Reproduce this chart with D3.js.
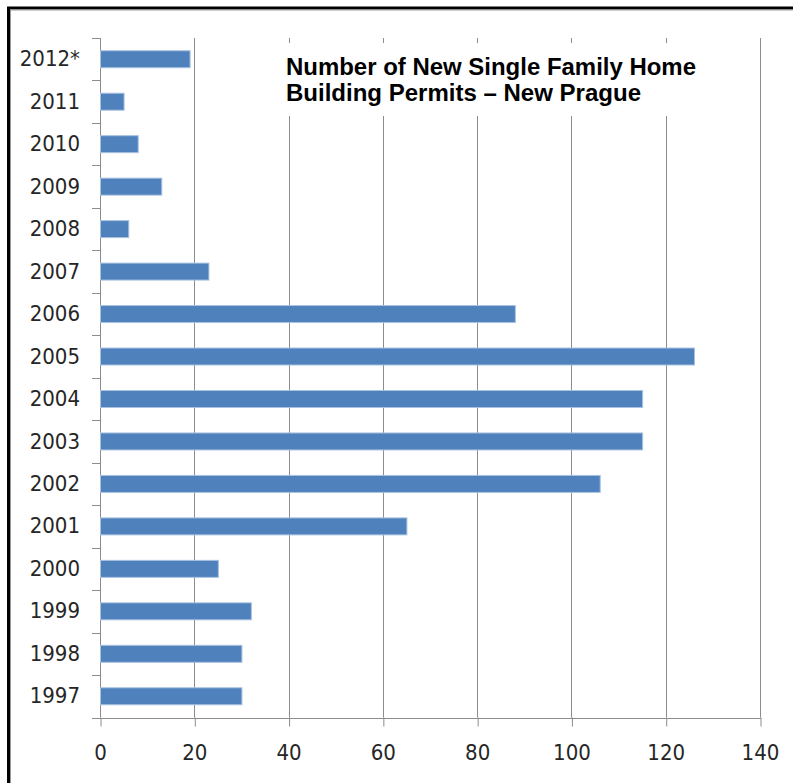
<!DOCTYPE html>
<html><head><meta charset="utf-8">
<script src="https://cdn.jsdelivr.net/npm/d3@7"></script>
<style>
html,body{margin:0;padding:0;background:#fff;overflow:hidden;}
svg{display:block;}
.lbl{font-family:"Liberation Sans Narrow","DejaVu Sans Condensed","DejaVu Sans",sans-serif;font-stretch:condensed;fill:#262626;}
.title{font-family:"Liberation Sans",Arial,sans-serif;font-weight:bold;fill:#000;}
</style></head>
<body>
<script>
const years = ["2012*","2011","2010","2009","2008","2007","2006","2005","2004","2003","2002","2001","2000","1999","1998","1997"];
const permits = [19,5,8,13,6,23,88,126,115,115,106,65,25,32,30,30];
const xTicks = [0,20,40,60,80,100,120,140];
const titleLines = ["Number of New Single Family Home","Building Permits \u2013 New Prague"];

(function(){
const W = 793, H = 783;
const svg = d3.select("body").append("svg").attr("width", W).attr("height", H);

// frame
svg.append("rect").attr("x",8.5).attr("y",8).attr("width",W+20).attr("height",H+20)
  .attr("fill","none").attr("stroke","#000").attr("stroke-width",3);
svg.append("rect").attr("x",10.5).attr("y",10).attr("width",W+20).attr("height",H+20)
  .attr("fill","none").attr("stroke","#9a9a9a").attr("stroke-width",1);

const pL = 100, pR = 760, pT = 38, pB = 717.5;
const x = d3.scaleLinear().domain([0,140]).range([pL,pR]);
const y = d3.scaleBand().domain(years).range([pT,pB]).paddingInner(0.6).paddingOuter(0.3);

const grid = "#8c8c8c";
// gridlines
svg.append("g").selectAll("line").data(xTicks.filter(d=>d>0)).join("line")
  .attr("x1",d=>Math.round(x(d))+0.5).attr("x2",d=>Math.round(x(d))+0.5)
  .attr("y1",pT).attr("y2",pB).attr("stroke",grid).attr("stroke-width",1);

// x axis
const xAxis = d3.axisBottom(x).tickValues(xTicks).tickSize(9).tickPadding(18).tickFormat(d3.format("d"));
const gx = svg.append("g").attr("transform",`translate(0,${pB})`).call(xAxis);
gx.select(".domain").remove();
gx.selectAll(".tick line").attr("stroke",grid).attr("transform","translate(0.5,0)");
gx.selectAll(".tick text").attr("class","lbl").attr("font-size",22).attr("dy","0.71em");
svg.append("line").attr("x1",92).attr("x2",pR+1).attr("y1",Math.round(pB)+0.5).attr("y2",Math.round(pB)+0.5)
  .attr("stroke",grid);

// y axis line + boundary ticks
svg.append("line").attr("x1",pL+0.5).attr("x2",pL+0.5).attr("y1",pT).attr("y2",pB).attr("stroke",grid);
const step = y.step();
const bounds = d3.range(years.length).map(i => pT + i*step);
svg.append("g").selectAll("line").data(bounds).join("line")
  .attr("x1",92).attr("x2",pL).attr("y1",d=>Math.round(d)+0.5).attr("y2",d=>Math.round(d)+0.5).attr("stroke",grid);

// y labels
const yAxis = d3.axisLeft(y).tickSize(0).tickPadding(20);
const gy = svg.append("g").attr("transform",`translate(${pL},0)`).call(yAxis);
gy.select(".domain").remove();
gy.selectAll(".tick text").attr("class","lbl").attr("font-size",22).attr("text-anchor","end");

// bars
svg.append("g").selectAll("rect").data(years).join("rect")
  .attr("x",x(0)+0.5).attr("y",d=>y(d))
  .attr("width",(d,i)=>x(permits[i])-x(0)).attr("height",y.bandwidth())
  .attr("fill","#4f81bd").attr("stroke","#a9c2e0").attr("stroke-width",1);

// title box
svg.append("rect").attr("x",270).attr("y",43).attr("width",450).attr("height",73).attr("fill","#fff");
const tw = [410, 355];
svg.append("g").selectAll("text").data(titleLines).join("text")
  .attr("class","title").attr("x",286).attr("y",(d,i)=>74.5+i*26.7)
  .attr("font-size",23.5).attr("textLength",(d,i)=>tw[i]).attr("lengthAdjust","spacingAndGlyphs").text(d=>d);
})();
</script>
</body></html>
